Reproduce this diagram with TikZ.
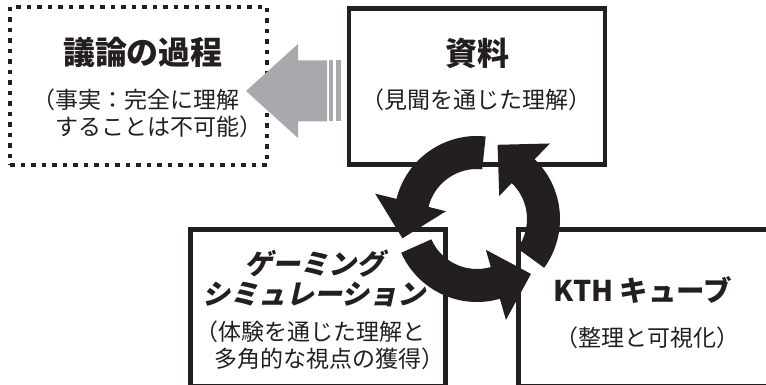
\documentclass[tikz,border=0pt]{standalone}
\usepackage{fontspec}
\setmainfont{Noto Sans CJK JP}
\IfFontExistsTF{Noto Sans CJK JP Black}
  {\newfontfamily\popfont{Noto Sans CJK JP Black}
   \newfontfamily\popslant{Noto Sans CJK JP Black}[FakeSlant=0.22]}
  {\newfontfamily\popfont{Noto Sans CJK JP}[FakeBold=2.5]
   \newfontfamily\popslant{Noto Sans CJK JP}[FakeBold=2.5,FakeSlant=0.22]}
\definecolor{ink}{HTML}{231F20}
\definecolor{arrowgray}{HTML}{A7A9AC}
\tikzset{
  box/.style={draw=ink, line width=4.5pt, inner sep=0pt, outer sep=0pt},
  dotbox/.style={box, dash pattern=on 4.5pt off 6pt},
  ttl/.style={text=ink, inner sep=0pt, font=\popfont\fontsize{32}{34}\selectfont},
  gttl/.style={text=ink, inner sep=0pt, align=center, font=\popslant\fontsize{28}{30}\selectfont},
  sub/.style={text=ink, inner sep=0pt, font=\fontsize{23}{27}\selectfont},
}
\begin{document}
\begin{tikzpicture}[x=1pt,y=-1pt]
\useasboundingbox (0,0) rectangle (766,385);
\clip (0,0) rectangle (766,385);
% boxes
\node[dotbox, minimum width=257pt, minimum height=158pt] (B1) at (138.5,86) {};
\node[box, minimum width=256pt, minimum height=156pt] (B2) at (477,86.5) {};
\node[box, minimum width=255pt, minimum height=157pt] (B3) at (318,308) {};
\node[box, minimum width=281.5pt, minimum height=157pt] (B4) at (659.25,308) {};
% texts
\node[ttl] (T1) at (143,52) {議論の過程};
\node[sub, align=left] (S1) at (147.5,113.5) {（事実：完全に理解\\\hspace*{1em}することは不可能）};
\node[ttl] (T2) at (477.5,53) {資料};
\node[sub] (S2) at (476.5,100) {（見聞を通じた理解）};
\node[gttl] (T3) at (314,278) {ゲーミング\\シミュレーション};
\node[sub, align=left] (S3) at (320,345.5) {（体験を通じた理解と\\\hspace*{0.8em}多角的な視点の獲得）};
\node[ttl, font=\popfont\fontsize{28.5}{30}\selectfont] (T4) at (643,290) {KTH キューブ};
\node[sub] (S4) at (647,338) {（整理と可視化）};
% gray block arrow
\fill[arrowgray] (246,91) -- (298,44) -- (298,60.5) -- (327,60.5) -- (327,121.5)
  -- (298,121.5) -- (298,138) -- cycle;
\fill[arrowgray] (329,60.5) rectangle (333,121.5);
\fill[arrowgray] (336,60.5) rectangle (341,121.5);
% circular arrows
\coordinate (C) at (477,219);
\begin{scope}[shift={(C)}, yscale=-1]
\foreach \s in {84,204,324} {
  \pgfmathsetmacro\b{\s+82}
  \pgfmathsetmacro\t{\s+110.5}
  \fill[ink] (\s:50) -- (\s:83) arc[start angle=\s, end angle=\b, radius=83]
    -- (\b:105) -- (\t:77) -- (\b:32) -- (\b:50)
    arc[start angle=\b, end angle=\s, radius=50] -- cycle;
}
\end{scope}
\end{tikzpicture}
\end{document}
